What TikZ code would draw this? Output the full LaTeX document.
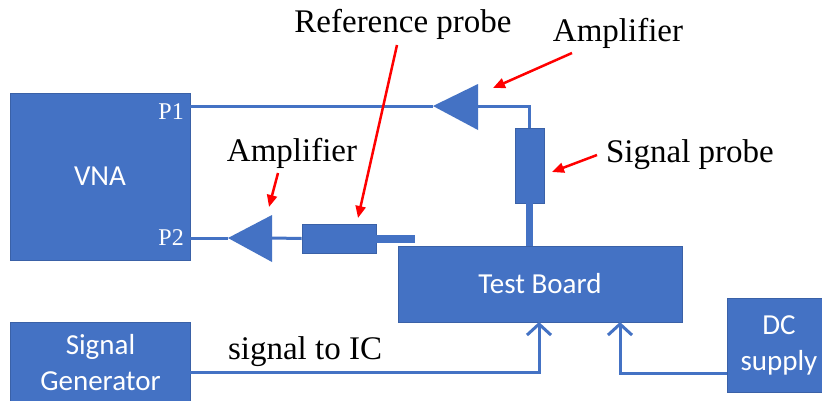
\documentclass[tikz,border=0pt]{standalone}
\usepackage{fontspec}
\setmainfont{Liberation Serif}
\newfontfamily\boxfont{Carlito}
\usetikzlibrary{arrows.meta}
\definecolor{vblue}{HTML}{4472C4}
\begin{document}
\begin{tikzpicture}[x=1pt,y=-1pt,
  blk/.style={fill=vblue, draw=vblue!85!black, line width=0.6pt, text=white,
    font=\boxfont\fontsize{29}{36}\selectfont, align=center, inner sep=0pt},
  part/.style={fill=vblue, draw=vblue!85!black, line width=0.6pt, inner sep=0pt},
  wire/.style={draw=vblue, line width=3pt},
  feed/.style={wire, -{Straight Barb[length=11pt,width=24pt,line width=3pt]}},
  callout/.style={draw=red, line width=2.5pt, -{Triangle[length=12pt,width=10pt]}},
  lbl/.style={font=\fontsize{33}{38}\selectfont, inner sep=0pt},
  port/.style={text=white, font=\fontsize{24}{28}\selectfont, inner sep=0pt, anchor=east}]
\useasboundingbox (0,0) rectangle (822,400);
\fill[white] (0,0) rectangle (822,400);

% main blocks
\node[blk, minimum width=180pt, minimum height=167pt] (vna) at (100,176.5) {VNA};
\node[blk, minimum width=284pt, minimum height=76pt] (tb) at (540,284) {Test Board};
\node[blk, minimum width=180pt, minimum height=82pt] (sg) at (100.5,363) {Signal\\Generator};
\node[blk, minimum width=104pt, minimum height=94pt] (dc) at (779,345) {DC\\supply};

% probes
\node[part, minimum width=74pt, minimum height=29pt] (rp) at (339,238.5) {};
\node[part, minimum width=29pt, minimum height=75pt] (sp) at (529.5,165.5) {};

% port labels
\node[port] (p1) at (184,112) {P1};
\node[port] (p2) at (184,238) {P2};

% amplifiers
\coordinate (a1tip) at (433,106);
\coordinate (a1base) at (478,106);
\coordinate (a2tip) at (228,238);
\coordinate (a2base) at (272,238);
\fill[vblue] (a1tip) -- (478,84) -- (478,130) -- cycle;
\fill[vblue] (a2tip) -- (272,215) -- (272,262) -- cycle;

% wires
\draw[wire] (vna.east |- a1tip) -- (a1tip);
\draw[wire] (a1base) -| (sp.north);
\draw[vblue, line width=7pt] (sp.south) -- (sp.south |- tb.north);
\draw[wire] (a2tip) -- (vna.east |- a2tip);
\draw[wire] (a2base) -- (rp.west);
\coordinate (rstub) at (415,239);
\draw[vblue, line width=8pt] (rp.east) -- (rp.east -| rstub);

\coordinate (sgout) at (190,372);
\coordinate (tbin1) at (539,322);
\coordinate (dcout) at (727,373);
\coordinate (tbin2) at (620,322);
\draw[feed] (sgout) -| (tbin1);
\draw[feed] (dcout) -| (tbin2);

% labels
\node[lbl] (lref) at (403,24) {Reference probe};
\node[lbl] (lamp1) at (618,33) {Amplifier};
\node[lbl] (lsp) at (690,155) {Signal probe};
\node[lbl] (lamp2) at (292,153) {Amplifier};
\node[lbl] (lsig) at (305,352) {signal to IC};

% callouts
\coordinate (c1s) at (397,45);  \coordinate (c1e) at (358,218);
\coordinate (c2s) at (572,53);  \coordinate (c2e) at (493,88);
\coordinate (c3s) at (597,155); \coordinate (c3e) at (552,172);
\coordinate (c4s) at (278,173); \coordinate (c4e) at (269,207);
\draw[callout] (c1s) -- (c1e);
\draw[callout] (c2s) -- (c2e);
\draw[callout] (c3s) -- (c3e);
\draw[callout] (c4s) -- (c4e);
\end{tikzpicture}
\end{document}
